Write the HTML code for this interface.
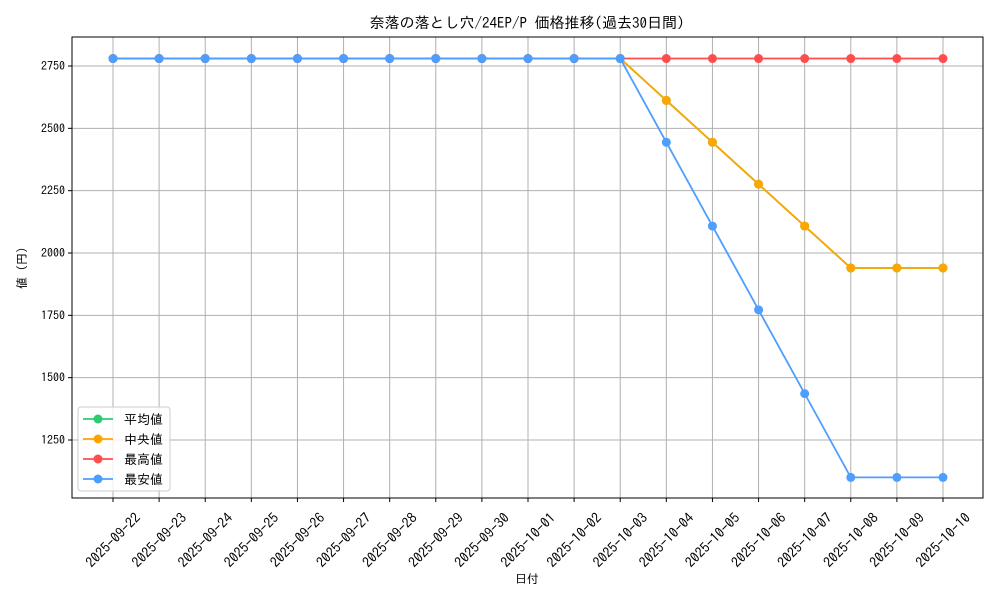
<!DOCTYPE html>
<html><head><meta charset="utf-8">
<style>
body{margin:0;background:#fff;}
svg{display:block;font-family:"IPAGothic","Liberation Sans","Noto Sans CJK JP",sans-serif;}
</style></head>
<body>
<svg id="chart" width="1000" height="600">
<rect width="1000" height="600" fill="#fff"/>
<text x="527" y="28" font-size="15" text-anchor="middle">奈落の落とし穴/24EP/P 価格推移(過去30日間)</text>
<g id="grid"></g>
<g id="series"></g>
<rect x="72" y="37" width="911" height="461" fill="none" stroke="#000" stroke-width="1"/>
<g id="axes"></g>
<text x="527" y="583" font-size="12" text-anchor="middle">日付</text>
<text x="26" y="268" font-size="12" text-anchor="middle" transform="rotate(-90 26 268)">値 (円)</text>
<g id="legend"></g>
</svg>
<script>
const dates=["2025-09-22","2025-09-23","2025-09-24","2025-09-25","2025-09-26","2025-09-27","2025-09-28","2025-09-29","2025-09-30","2025-10-01","2025-10-02","2025-10-03","2025-10-04","2025-10-05","2025-10-06","2025-10-07","2025-10-08","2025-10-09","2025-10-10"];
const meanVals=[2780,2780,2780,2780,2780,2780,2780,2780,2780,2780,2780,2780,2612,2444,2276,2108,1940,1940,1940];
const medianVals=[2780,2780,2780,2780,2780,2780,2780,2780,2780,2780,2780,2780,2612,2444,2276,2108,1940,1940,1940];
const maxVals=[2780,2780,2780,2780,2780,2780,2780,2780,2780,2780,2780,2780,2780,2780,2780,2780,2780,2780,2780];
const minVals=[2780,2780,2780,2780,2780,2780,2780,2780,2780,2780,2780,2780,2444,2108,1772,1436,1100,1100,1100];
const yTicks=[1250,1500,1750,2000,2250,2500,2750];
const seriesNames=["平均値","中央値","最高値","最安値"];
const seriesColors=["#2ecc71","#ffa500","#ff4d4d","#4d9eff"];

const NS="http://www.w3.org/2000/svg";
function mk(t,a,p){const e=document.createElementNS(NS,t);for(const k in a)e.setAttribute(k,a[k]);p.appendChild(e);return e;}
const x=i=>113+i*(943-113)/(dates.length-1);
const y=v=>66+(2750-v)*(374/1500);
const grid=document.getElementById('grid'),axes=document.getElementById('axes'),ser=document.getElementById('series'),leg=document.getElementById('legend');
dates.forEach((d,i)=>{
  const g=mk('line',{x1:x(i),x2:x(i),y1:37,y2:498,stroke:'#b0b0b0','stroke-width':1},grid);
  
  
  const t=mk('line',{x1:x(i),x2:x(i),y1:498,y2:502,stroke:'#000'},axes);
  
  
  const cx=x(i),cy=540;
  const l=mk('text',{x:cx,y:cy+5,'font-size':14,'text-anchor':'middle',transform:`rotate(-45 ${cx} ${cy})`},axes);
  l.textContent=d;
  
  
});
yTicks.forEach(v=>{
  const g=mk('line',{x1:72,x2:983,y1:y(v),y2:y(v),stroke:'#b0b0b0','stroke-width':1},grid);
  
  
  const t=mk('line',{x1:68,x2:72,y1:y(v),y2:y(v),stroke:'#000'},axes);
  
  
  const l=mk('text',{x:65,y:y(v)+4,'font-size':12,'text-anchor':'end'},axes);
  l.textContent=v;
  
  
});
const all=[meanVals,medianVals,maxVals,minVals];
all.forEach((vals,s)=>{
  const g=mk('g',{},ser);
  
  
  const pl=mk('polyline',{points:vals.map((v,i)=>x(i)+','+y(v)).join(' '),fill:'none',stroke:seriesColors[s],'stroke-width':1.8},g);
  
  
  vals.forEach((v,i)=>{
    const c=mk('circle',{cx:x(i),cy:y(v),r:4.5,fill:seriesColors[s]},g);
    
    
  });
});
const box=mk('rect',{x:78,y:407,width:92,height:84,rx:3,fill:'#fff','fill-opacity':0.8,stroke:'#ccc'},leg);


seriesNames.forEach((n,s)=>{
  const yy=419+s*20;
  const g=mk('g',{},leg);
  
  
  mk('line',{x1:83,x2:113,y1:yy,y2:yy,stroke:seriesColors[s],'stroke-width':1.8},g);
  mk('circle',{cx:98,cy:yy,r:4.5,fill:seriesColors[s]},g);
  const t=mk('text',{x:124,y:yy+5,'font-size':13},g);
  t.textContent=n;
});
</script>
</body></html>
